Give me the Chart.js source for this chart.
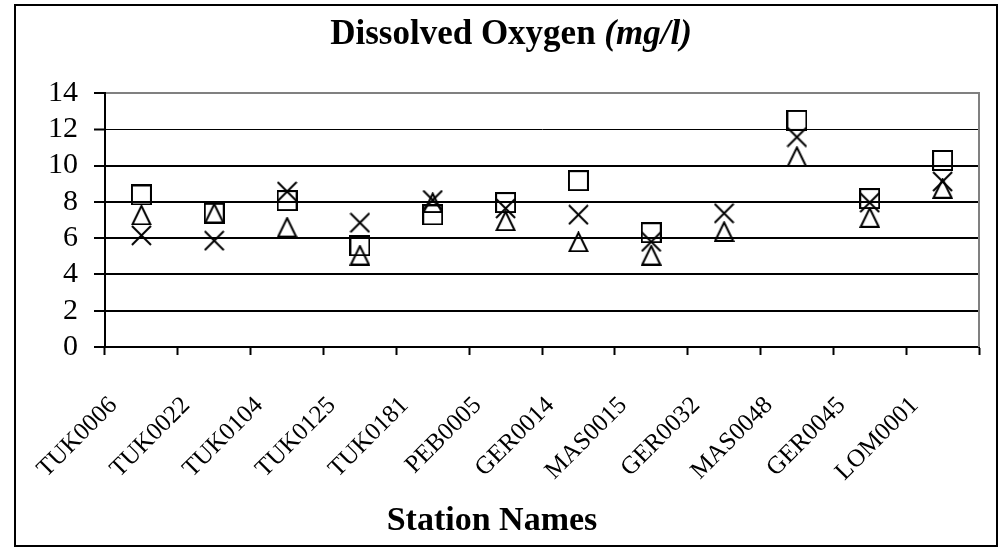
<!DOCTYPE html>
<html>
<head>
<meta charset="utf-8">
<script src="https://cdn.jsdelivr.net/npm/chart.js@4/dist/chart.umd.min.js"></script>
<style>
html,body{margin:0;padding:0;background:#fff;}
#wrap{width:1002px;height:548px;}
</style>
</head>
<body>
<div id="wrap"><canvas id="c" width="1002" height="548"></canvas></div>
<script>
const stations = ["TUK0006","TUK0022","TUK0104","TUK0125","TUK0181","PEB0005","GER0014","MAS0015","GER0032","MAS0048","GER0045","LOM0001"];
const squareSeries   = [8.38, 7.37, 8.07, 5.58, 7.28, 7.96, 9.17, 6.30, null, 12.49, 8.18, 10.28];
const triangleSeries = [7.28, 7.38, 6.61, 5.07, 7.96, 6.96, 5.80, 5.07, 6.37, 10.50, 7.15, 8.75];
const crossSeries    = [6.15, 5.86, 8.57, 6.85, 8.10, 7.64, 7.29, 5.80, 7.37, 11.57, 7.96, 9.12];
const yTicks = [0, 2, 4, 6, 8, 10, 12, 14];

const FONT = "'Liberation Serif','Times New Roman',serif";

function marker(type){
  const c = document.createElement('canvas');
  c.width = 21; c.height = 21;
  const g = c.getContext('2d');
  g.strokeStyle = '#000'; g.lineWidth = 2; g.lineJoin = 'miter';
  g.beginPath();
  if (type === 'square') {
    g.rect(1, 1, 19, 19);
  } else if (type === 'triangle') {
    g.moveTo(10.5, 1.5); g.lineTo(19.5, 20); g.lineTo(1.5, 20); g.closePath();
  } else {
    g.moveTo(1, 1); g.lineTo(20, 20); g.moveTo(20, 1); g.lineTo(1, 20);
  }
  g.stroke();
  return c;
}

const decor = {
  id: 'decor',
  beforeDraw(chart) {
    const ctx = chart.ctx;
    ctx.save();
    ctx.fillStyle = '#fff';
    ctx.fillRect(0, 0, chart.width, chart.height);
    ctx.restore();
  },
  beforeDatasetsDraw(chart) {
    const {ctx, chartArea} = chart;
    ctx.save();
    ctx.strokeStyle = '#808080';
    ctx.lineWidth = 2;
    ctx.beginPath();
    ctx.moveTo(chartArea.right, chartArea.top - 1);
    ctx.lineTo(chartArea.right, chartArea.bottom);
    ctx.stroke();
    ctx.restore();
  },
  afterDraw(chart) {
    const ctx = chart.ctx;
    ctx.save();
    ctx.strokeStyle = '#000';
    ctx.lineWidth = 2;
    ctx.strokeRect(15, 5, 982, 541);
    ctx.fillStyle = '#000';
    ctx.textBaseline = 'alphabetic';
    const p1 = 'Dissolved Oxygen ', p2 = '(mg/l)';
    const f1 = 'bold 35px ' + FONT, f2 = 'italic bold 35px ' + FONT;
    ctx.font = f1; const w1 = ctx.measureText(p1).width;
    ctx.font = f2; const w2 = ctx.measureText(p2).width;
    let x0 = 511 - (w1 + w2) / 2;
    ctx.textAlign = 'left';
    ctx.font = f1; ctx.fillText(p1, x0, 44);
    ctx.font = f2; ctx.fillText(p2, x0 + w1, 44);
    ctx.font = 'bold 34px ' + FONT;
    ctx.textAlign = 'center';
    ctx.fillText('Station Names', 492, 530);
    ctx.restore();
  }
};

const common = {showLine: false, pointRadius: 10, pointHoverRadius: 10};

new Chart(document.getElementById('c'), {
  type: 'line',
  data: {
    labels: stations,
    datasets: [
      Object.assign({label: 'Series 1', data: squareSeries, pointStyle: marker('square')}, common),
      Object.assign({label: 'Series 2', data: triangleSeries, pointStyle: marker('triangle')}, common),
      Object.assign({label: 'Series 3', data: crossSeries, pointStyle: marker('cross')}, common)
    ]
  },
  options: {
    responsive: false,
    devicePixelRatio: 1,
    animation: false,
    layout: {padding: {left: 0, right: 23, top: 93, bottom: 0}},
    plugins: {legend: {display: false}, title: {display: false}, tooltip: {enabled: false}},
    scales: {
      x: {
        type: 'category',
        offset: true,
        grid: {offset: true, drawOnChartArea: false, drawTicks: true, tickLength: 8, tickColor: '#000', tickWidth: 2},
        border: {display: true, color: '#000', width: 2},
        ticks: {
          autoSkip: false, minRotation: 45, maxRotation: 45,
          padding: 36, labelOffset: -28,
          color: '#000', font: {family: FONT, size: 25}
        },
        afterFit(s) { s.height = 201; }
      },
      y: {
        min: 0, max: 14,
        afterBuildTicks(s) { s.ticks = yTicks.map(v => ({value: v})); },
        grid: {
          drawOnChartArea: true, drawTicks: true, tickLength: 11,
          color: c => (c.tick && c.tick.value === 14) ? '#808080' : '#000',
          lineWidth: c => (c.tick && c.tick.value === 12) ? 1 : 2,
          tickColor: '#000', tickWidth: 2
        },
        border: {display: true, color: '#000', width: 2},
        ticks: {autoSkip: false, padding: 16, color: '#000', font: {family: FONT, size: 30}},
        afterFit(s) { s.width = 105; }
      }
    }
  },
  plugins: [decor]
});
</script>
</body>
</html>
